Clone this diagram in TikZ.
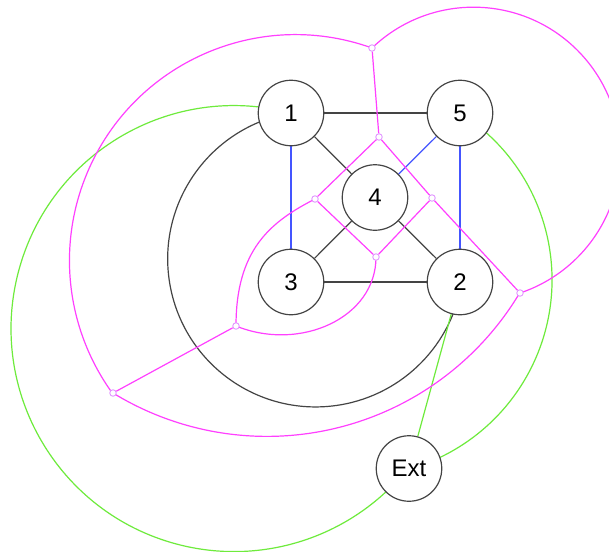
\documentclass[tikz,border=0pt]{standalone}
\usepackage{fontspec}
\setmainfont{Liberation Sans}
\pgfdeclarelayer{back}
\pgfdeclarelayer{bg}
\pgfsetlayers{back,bg,main}
\definecolor{edgegray}{RGB}{68,68,68}
\definecolor{edgeblue}{RGB}{68,85,255}
\definecolor{dualpink}{RGB}{255,64,255}
\definecolor{dotpink}{RGB}{225,150,255}
\definecolor{extgreen}{RGB}{110,235,60}
\begin{document}
\begin{tikzpicture}[x=1pt,y=-1pt,
  vertex/.style={circle,draw=edgegray,line width=1.2pt,fill=white,minimum size=65.5pt,inner sep=0pt,font=\fontsize{24}{28}\selectfont},
  dualdot/.style={circle,draw=dotpink,line width=0.9pt,fill=white,minimum size=6.5pt,inner sep=0pt},
  blk/.style={draw=edgegray,line width=1.2pt},
  blu/.style={draw=edgeblue,line width=1.2pt},
  pnk/.style={draw=dualpink,line width=1.2pt},
  grn/.style={draw=extgreen,line width=1.2pt}]
\begin{pgfonlayer}{back}
\fill[white] (0,0) rectangle (609,551);
\end{pgfonlayer}
\useasboundingbox (0,0) rectangle (609,551);
% vertices
\node[vertex] (n1) at (291,113) {1};
\node[vertex] (n5) at (460,113) {5};
\node[vertex] (n4) at (375,197.5) {4};
\node[vertex] (n3) at (291,282) {3};
\node[vertex] (n2) at (460,282) {2};
\node[vertex] (ext) at (409,468.5) {Ext};
% dual dots
\node[dualdot] (p1) at (372,48) {};
\node[dualdot] (p2) at (379,137) {};
\node[dualdot] (p3) at (315,199) {};
\node[dualdot] (p4) at (432,198) {};
\node[dualdot] (p5) at (376,257) {};
\node[dualdot] (p6) at (236,326) {};
\node[dualdot] (p7) at (113,393) {};
\node[dualdot] (p8) at (520,293) {};
\begin{pgfonlayer}{bg}
% primal edges
\draw[blk] (n1) -- (n5);
\draw[blk] (n1) -- (n4);
\draw[blk] (n4) -- (n3);
\draw[blk] (n4) -- (n2);
\draw[blk] (n3) -- (n2);
\draw[blu] (n1) -- (n3);
\draw[blu] (n5) -- (n4);
\draw[blu] (n5) -- (n2);
\draw[blk] (n1.center) arc[start angle=260.4, end angle=8.3, radius=148];
% external edges
\draw[grn] (n2) -- (ext);
\draw[grn] (n1.center) arc[start angle=284.8, end angle=38.5, radius=223];
\draw[grn] (n5.center) arc[start angle=302.2, end angle=433.7, radius=197];
% dual edges
\draw[pnk] (p1) -- (p2);
\draw[pnk] (p2) -- (p3);
\draw[pnk] (p2) -- (p4);
\draw[pnk] (p3) -- (p5);
\draw[pnk] (p4) -- (p5);
\draw[pnk] (p4) -- (p8);
\draw[pnk] (p6) -- (p7);
\draw[pnk] (p1.center) arc[start angle=289.8, end angle=144.3, radius=226];
\draw[pnk] (p1.center) arc[start angle=226.2, end angle=431.6, radius=146.7];
\draw[pnk] (p7.center) arc[start angle=121.5, end angle=30.7, radius=294.5];
\draw[pnk] (p6.center) .. controls (236,250) and (270,222) .. (p3.center);
\draw[pnk] (p6.center) .. controls (300,352) and (376,318) .. (p5.center);
\end{pgfonlayer}
\end{tikzpicture}
\end{document}
